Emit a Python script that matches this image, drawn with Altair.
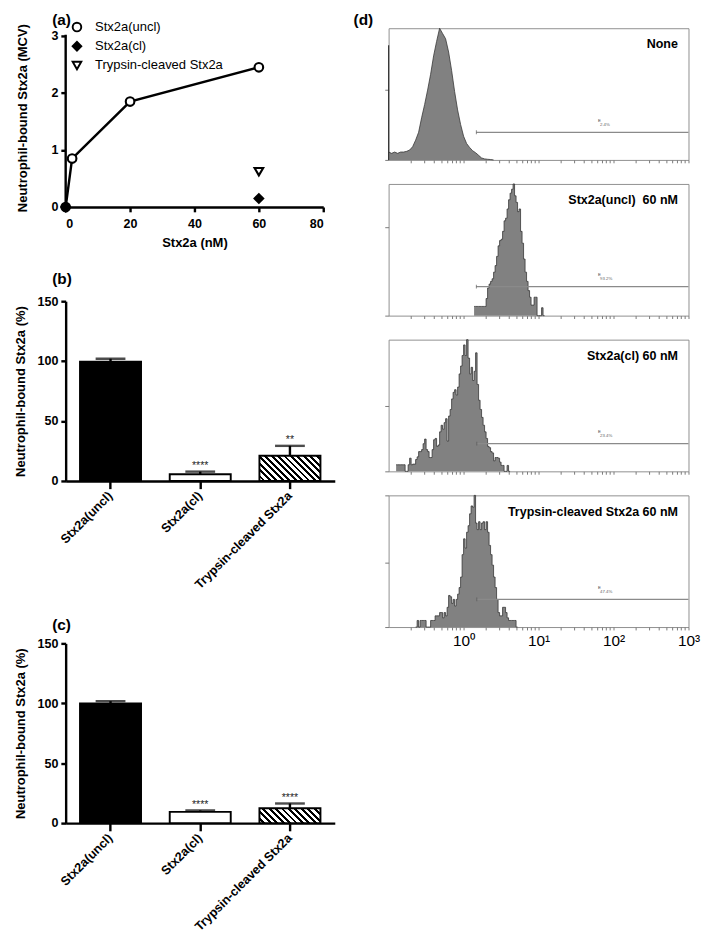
import altair as alt
import pandas as pd

FONT = "Liberation Sans"

# ---------------- (a) binding curve ----------------
a_series = ["Stx2a(uncl)", "Stx2a(cl)", "Trypsin-cleaved Stx2a"]
a_uncl_conc = [0, 2, 20, 60]
a_uncl_mcv = [0.0, 0.85, 1.85, 2.45]
a_cl_conc = [0, 60]
a_cl_mcv = [0.0, 0.15]
a_tryp_conc = [60]
a_tryp_mcv = [0.62]
a_y_ticks = [0, 1, 2, 3]

# ---------------- (b), (c) bar charts ----------------
bar_categories = ["Stx2a(uncl)", "Stx2a(cl)", "Trypsin-cleaved Stx2a"]
b_mean = [99.5, 5.6, 21.1]
b_err = [102.0, 7.8, 29.3]
b_stars = ["", "****", "**"]
c_mean = [99.8, 9.4, 12.4]
c_err = [101.8, 10.6, 16.4]
c_stars = ["", "****", "****"]

# ---------------- (d) flow cytometry histograms ----------------
hist_titles = ["None", "Stx2a(uncl)\u00a0 60 nM", "Stx2a(cl) 60 nM", "Trypsin-cleaved Stx2a 60 nM"]
hist_log_start = [-1.00, 0.14, -0.90, -0.64]
hist_log_step = [0.04, 0.02, 0.02, 0.02]
none_counts = [6, 5, 6, 5, 6, 6, 6.5, 7.5, 10, 15, 21, 32, 42, 53, 65, 79, 90, 100,
               96, 92, 82, 68, 52, 38, 27, 18, 12.5, 9.5, 7, 5.5, 3.5, 1.5, 0.8, 0.5, 0.3, 0]
none_first_channel = 87
uncl_counts = [7, 7, 7, 7, 7, 7, 7, 7, 13, 21, 24, 26, 28, 33, 38, 45, 53, 57, 58, 64,
               72, 74, 81, 88, 93, 96, 100, 91, 86, 79, 81, 64, 55, 43, 33, 26, 19, 14,
               8, 8, 14, 14, 0, 0, 0, 6, 0]
cl_counts = [5, 5, 5, 5, 5, 5, 0, 0, 5, 10, 5, 5.5, 5.5, 9, 11, 15, 15, 16.5, 21, 24.5,
             16.5, 15, 10.5, 10.5, 16.5, 24, 25, 19, 20, 30, 35, 32, 37, 40, 23, 42, 47,
             55, 60, 62, 58, 64, 74, 80, 88, 96, 88, 100, 86, 74, 79, 69, 76, 90, 66, 54,
             47, 41, 35, 30, 25, 19, 18, 15, 14, 8, 10.5, 10.5, 10, 7, 4.5, 4.5, 0, 0, 4.5, 0]
tryp_counts = [0, 5, 0, 5, 5, 5, 5, 0, 0, 0, 5, 5, 5, 8.5, 8.5, 8.5, 11, 11, 7, 11, 8.5,
               15, 24, 23, 18, 21, 16, 21, 25, 30, 38, 55, 67, 60, 72, 77, 86, 92, 91, 100,
               79, 74, 80, 74, 79, 80, 74, 80, 72, 62, 55, 47, 38, 30, 21, 11, 8.5, 8.5,
               15, 15, 11, 7, 5, 5, 5, 5, 5, 0]
hist_counts = [none_counts, uncl_counts, cl_counts, tryp_counts]
hist_interp = ["linear", "step-after", "step-after", "step-after"]
gate_start = [1.48, 1.48, 1.5, 1.5]
gate_level = [21, 22, 21, 21]
gate_label_x = [66, 66, 66, 66]
gate_pct = ["2.4%", "93.2%", "23.4%", "47.4%"]
y_tick_vals = [[0, 53], [0, 67], [0, 50], [0, 49, 100]]
x_decade_labels = {1: "10\u2070", 10: "10\u00b9", 100: "10\u00b2", 1000: "10\u00b3"}

# ---------------- layout ----------------
A_W, A_H = 268, 178
A_TOP_ROOM = 8                      # empty room kept above the "3" tick of panel (a)
A_YMAX = 3 * (A_H + A_TOP_ROOM) / A_H
B_W, B_H = 280, 187
H_W, H_H = 312, 137
PAD_INNER, PAD_OUTER = 0.32, 0.16


def left_axis(**kw):
    base = dict(domainColor="black", domainWidth=2.5, tickColor="black", tickWidth=2.5,
                tickSize=5, labelFont=FONT, labelFontWeight="bold", labelFontSize=13,
                labelColor="black", titleFont=FONT, titleFontWeight="bold",
                titleFontSize=13.5, titleColor="black", grid=False)
    base.update(kw)
    return alt.Axis(**base)


def tag(text, x, y, align="left"):
    return alt.Chart(pd.DataFrame({"t": [text]})).mark_text(
        font=FONT, fontSize=16, fontWeight="bold", align=align, baseline="alphabetic",
        color="black").encode(text="t:N", x=alt.value(x), y=alt.value(y))


def hatch_gradient(w, h, period=6.7, black_frac=0.45):
    s = w * (w + h) / (w * w + h * h)
    n = (w + h) / period
    stops = []
    k = 0
    while k < n:
        o0 = min(k / n, 1.0)
        o1 = min((k + 1 - black_frac) / n, 1.0)
        o2 = min((k + 1) / n, 1.0)
        stops += [alt.GradientStop(color="white", offset=o0),
                  alt.GradientStop(color="white", offset=o1),
                  alt.GradientStop(color="black", offset=o1),
                  alt.GradientStop(color="black", offset=o2)]
        k += 1
    return alt.LinearGradient(gradient="linear", stops=stops, x1=0, y1=1,
                              x2=s, y2=1 - s * h / w)


# ---------------- panel (a) ----------------
a_rows = ([{"conc": c, "mcv": v, "series": a_series[0]} for c, v in zip(a_uncl_conc, a_uncl_mcv)]
          + [{"conc": c, "mcv": v, "series": a_series[1]} for c, v in zip(a_cl_conc, a_cl_mcv)]
          + [{"conc": c, "mcv": v, "series": a_series[2]} for c, v in zip(a_tryp_conc, a_tryp_mcv)])
df_a = pd.DataFrame(a_rows)

ax = alt.X("conc:Q", scale=alt.Scale(domain=[0, 80], nice=False),
           axis=left_axis(values=[0, 20, 40, 60, 80], title="Stx2a (nM)", format="d",
                          labelPadding=6, titlePadding=6))
ay = alt.Y("mcv:Q", scale=alt.Scale(domain=[0, A_YMAX], nice=False),
           axis=left_axis(values=a_y_ticks, title="Neutrophil-bound Stx2a (MCV)",
                          format="d", labelPadding=3, titlePadding=22, domain=False))
leg = alt.Legend(title=None, orient="none", legendX=5, legendY=-16 + A_TOP_ROOM, symbolSize=80,
                 symbolStrokeWidth=2, labelFont=FONT,
                 labelFontSize=13.5, labelColor="black", labelOffset=12, rowPadding=2)

# y-axis line drawn from the first to the last tick value
df_axis = pd.DataFrame({"conc": [0], "mcv": [a_y_ticks[0]], "mcv_top": [a_y_ticks[-1]]})
yaxis_line = alt.Chart(df_axis).mark_rule(color="black", strokeWidth=2.5, strokeCap="square").encode(
    x=ax, y=ay, y2="mcv_top:Q")
line_a = alt.Chart(df_a).transform_filter(alt.datum.series == a_series[0]).mark_line(
    color="black", strokeWidth=2.5).encode(x=alt.X("conc:Q"), y=alt.Y("mcv:Q"))
pts_a = alt.Chart(df_a).mark_point(size=80, strokeWidth=2.2, opacity=1,
                                   fillOpacity=1, clip=False).encode(
    x=alt.X("conc:Q"), y=alt.Y("mcv:Q"),
    shape=alt.Shape("series:N", scale=alt.Scale(domain=a_series,
                                                range=["circle", "diamond", "triangle-down"]),
                    legend=leg),
    fill=alt.Fill("series:N", scale=alt.Scale(domain=a_series, range=["white", "black", "white"]),
                  legend=leg),
    stroke=alt.Stroke("series:N", scale=alt.Scale(domain=a_series, range=["black", "black", "black"]),
                      legend=leg),
)
panel_a = alt.layer(yaxis_line, line_a, pts_a, tag("(a)", -14, -3),
                    tag("(d)", 320, -3, align="right")).properties(
    width=A_W, height=A_H + A_TOP_ROOM)


# ---------------- panels (b), (c) ----------------
def bar_panel(means, errs, stars, label, label_y):
    df = pd.DataFrame({"cat": bar_categories, "mean": means, "err": errs, "stars": stars})
    x = alt.X("cat:N", sort=bar_categories,
              scale=alt.Scale(domain=bar_categories, paddingInner=PAD_INNER, paddingOuter=PAD_OUTER),
              axis=left_axis(title=None, labelAngle=-45, labelAlign="right",
                             labelBaseline="middle", tickSize=8, labelPadding=5))
    y = alt.Y("mean:Q", scale=alt.Scale(domain=[0, 150], nice=False),
              axis=left_axis(values=[0, 50, 100, 150], title="Neutrophil-bound Stx2a (%)",
                             labelPadding=3, titlePadding=10))
    base = alt.Chart(df)
    bar_w = B_W / 3 * (1 - PAD_INNER)
    fills = ["black", "white", hatch_gradient(bar_w, means[2] / 150 * B_H)]
    layers = []
    for cat, f in zip(bar_categories, fills):
        layers.append(base.transform_filter(alt.datum.cat == cat).mark_bar(
            fill=f, stroke="black", strokeWidth=2).encode(x=x, y=y))
    xs = alt.X("cat:N", sort=bar_categories)
    rule = base.mark_rule(color="black", strokeWidth=2.5).encode(x=xs, y="mean:Q", y2="err:Q")
    cap = base.mark_tick(color="black", thickness=2.5, size=31, orient="horizontal").encode(
        x=xs, y="err:Q")
    star = base.mark_text(font=FONT, fontSize=11, color="#222", baseline="alphabetic",
                          dy=-3).encode(x=xs, y="err:Q", text="stars:N")
    return alt.layer(*layers, rule, cap, star, tag(label, -14, label_y)).properties(
        width=B_W, height=B_H)


panel_b = bar_panel(b_mean, b_err, b_stars, "(b)", -18)
panel_c = bar_panel(c_mean, c_err, c_stars, "(c)", -14)

# ---------------- panel (d) ----------------
tick_vals = []
for k in range(-1, 3):
    for m in range(1, 10):
        v = round(m * 10 ** k, 6)
        if v > 0.1:
            tick_vals.append(v)
tick_vals.append(1000)
label_expr = " : ".join(f"datum.value == {v} ? '{t}'" for v, t in x_decade_labels.items()) + " : ''"


def hist_panel(i, show_labels):
    start, step = hist_log_start[i], hist_log_step[i]
    counts = hist_counts[i]
    xs = [10 ** (start + j * step) for j in range(len(counts))]
    ys = list(counts)
    if hist_interp[i] == "step-after":
        xs.append(10 ** (start + len(counts) * step))
        ys.append(0)
    df = pd.DataFrame({"x": xs, "n": ys})
    x = alt.X("x:Q", scale=alt.Scale(type="log", domain=[0.1, 1000], nice=False),
              axis=alt.Axis(values=tick_vals, labelExpr=label_expr, labels=show_labels,
                            domain=False, title=None, grid=False, tickColor="#777",
                            tickSize=3, tickWidth=1, labelFont=FONT, labelFontSize=16,
                            labelColor="black", labelFlush=False, labelOverlap=False,
                            labelPadding=3))
    y = alt.Y("n:Q", scale=alt.Scale(domain=[0, 100], nice=False),
              axis=alt.Axis(values=y_tick_vals[i], labels=False, domain=False, title=None,
                            grid=False, tickColor="#777", tickSize=4, tickWidth=1))
    area = alt.Chart(df).mark_area(interpolate=hist_interp[i], fill="#818181", fillOpacity=1,
                                   line={"color": "#333333", "strokeWidth": 0.8}).encode(x=x, y=y)
    layers = [area]
    if i == 0:
        spike = pd.DataFrame({"x": [0.1], "lo": [0], "hi": [none_first_channel]})
        layers.append(alt.Chart(spike).mark_rule(color="#333", strokeWidth=1.2).encode(
            x="x:Q", y="lo:Q", y2="hi:Q"))
    g = pd.DataFrame({"x0": [gate_start[i]], "x1": [1000], "lvl": [gate_level[i]],
                      "lx": [gate_label_x[i]], "t": [gate_pct[i]], "e": ["E"]})
    gb = alt.Chart(g)
    layers.append(gb.mark_rule(color="#8a8a8a", strokeWidth=1.3).encode(
        x="x0:Q", x2="x1:Q", y="lvl:Q"))
    layers.append(gb.mark_tick(orient="vertical", size=4, thickness=1, color="#555").encode(
        x="x0:Q", y="lvl:Q"))
    layers.append(gb.mark_text(font=FONT, fontSize=4.5, color="#666", align="left",
                               dy=-8).encode(x="lx:Q", y="lvl:Q", text="t:N"))
    layers.append(gb.mark_text(font=FONT, fontSize=4.5, color="#444", align="left",
                               dx=-2, dy=-12).encode(x="lx:Q", y="lvl:Q", text="e:N"))
    ttl = pd.DataFrame({"t": [hist_titles[i]]})
    layers.append(alt.Chart(ttl).mark_text(font=FONT, fontSize=13, fontWeight="bold",
                                           align="right", baseline="alphabetic",
                                           color="black").encode(
        text="t:N", x=alt.value(H_W - 11), y=alt.value(21)))
    return alt.layer(*layers).properties(
        width=H_W, height=H_H, view=alt.ViewBackground(stroke="#8c8c8c", strokeWidth=1))


hists = [hist_panel(i, i == 3) for i in range(4)]

left = alt.vconcat(panel_a, alt.vconcat(panel_b, panel_c, spacing=27), spacing=23)
right = alt.vconcat(*hists, spacing=18)
chart = alt.hconcat(left, right, spacing=11).properties(
    padding={"left": 6, "top": -14, "right": 0, "bottom": 0}
).configure_view(stroke=None)

chart.save("out.html", embed_options={"renderer": "svg", "actions": False})
